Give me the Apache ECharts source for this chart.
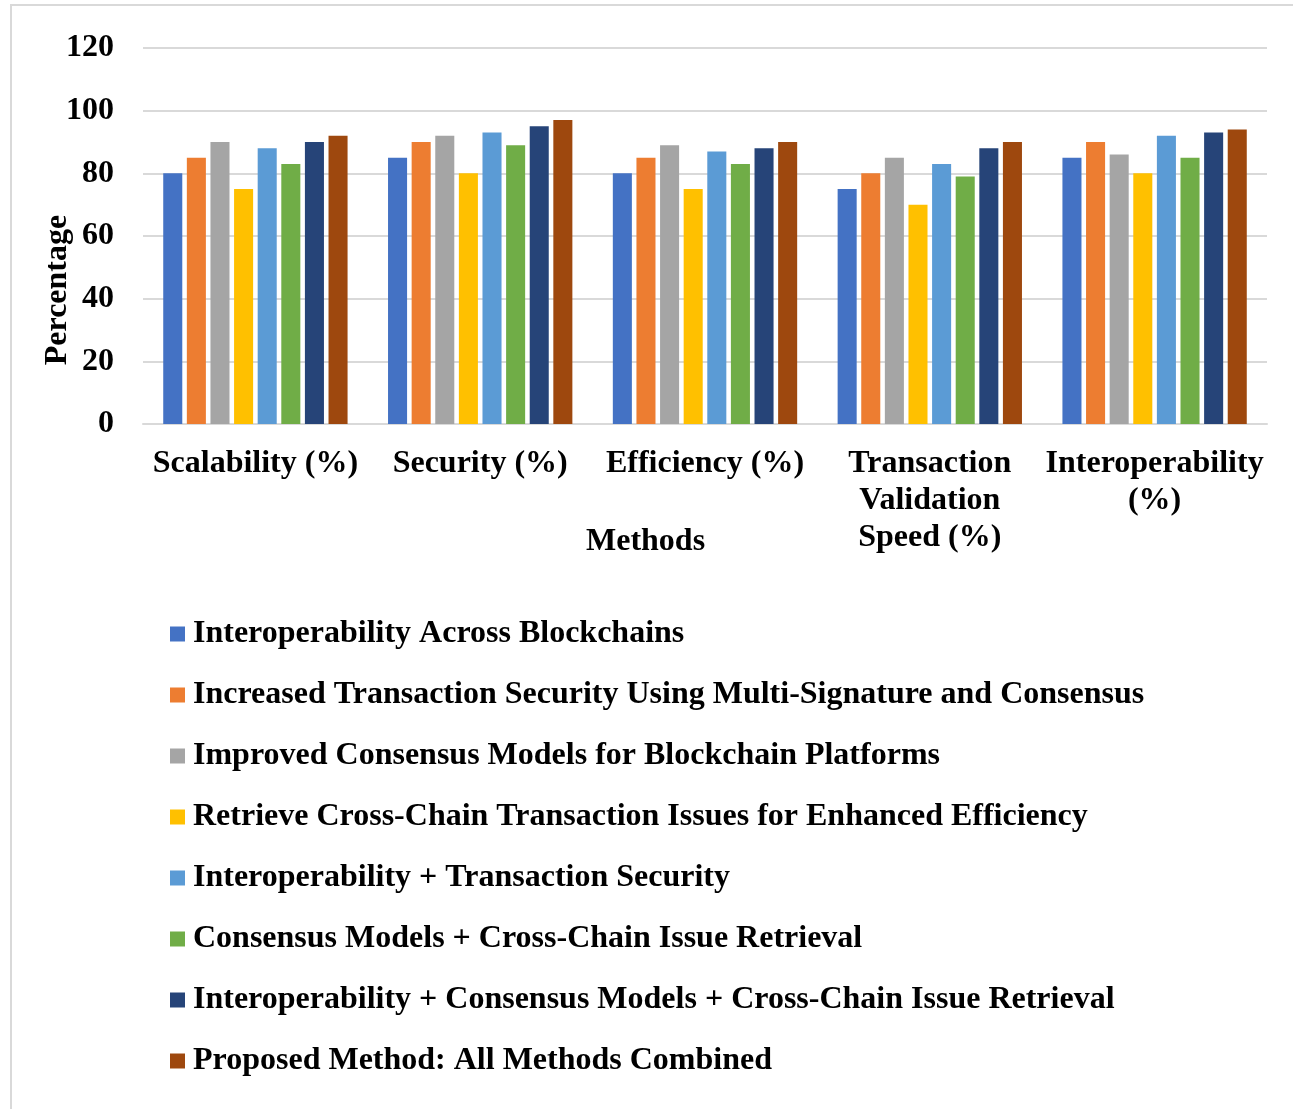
<!DOCTYPE html>
<html>
<head>
<meta charset="utf-8">
<script src="https://cdn.jsdelivr.net/npm/echarts@6/dist/echarts.min.js"></script>
<style>
  html, body { margin: 0; padding: 0; background: #ffffff; }
  #chart { width: 1293px; height: 1109px; }
</style>
</head>
<body>
<div id="chart"></div>
<script>
// Metric categories on the x axis
const categories = [
  'Scalability (%)',
  'Security (%)',
  'Efficiency (%)',
  'Transaction\nValidation\nSpeed (%)',
  'Interoperability\n(%)'
];

// Method names (one series each)
const methodNames = [
  'Interoperability Across Blockchains',
  'Increased Transaction Security Using Multi-Signature and Consensus',
  'Improved Consensus Models for Blockchain Platforms',
  'Retrieve Cross-Chain Transaction Issues for Enhanced Efficiency',
  'Interoperability + Transaction Security',
  'Consensus Models + Cross-Chain Issue Retrieval',
  'Interoperability + Consensus Models + Cross-Chain Issue Retrieval',
  'Proposed Method: All Methods Combined'
];

// Scores per method, in category order
const interopAcross   = [80, 85, 80, 75, 85];
const multiSigSec     = [85, 90, 85, 80, 90];
const consensusModels = [90, 92, 89, 85, 86];
const crossChainIssue = [75, 80, 75, 70, 80];
const interopPlusSec  = [88, 93, 87, 83, 92];
const consPlusCross   = [83, 89, 83, 79, 85];
const interopConsCross = [90, 95, 88, 88, 93];
const proposedAll     = [92, 97, 90, 90, 94];

// Y axis ticks
const yTicks = [0, 20, 40, 60, 80, 100, 120];

const seriesValues = [
  interopAcross, multiSigSec, consensusModels, crossChainIssue,
  interopPlusSec, consPlusCross, interopConsCross, proposedAll
];

const palette = ['#4472C4', '#ED7D31', '#A5A5A5', '#FFC000',
                 '#5B9BD5', '#70AD47', '#264478', '#9E480E'];

const FONT = '"Liberation Serif", "Times New Roman", serif';
const GRID_COLOR = '#d9d9d9';

const chart = echarts.init(document.getElementById('chart'), null, { renderer: 'canvas' });

chart.setOption({
  backgroundColor: '#ffffff',
  animation: false,
  color: palette,
  grid: { left: 143, right: 26, top: 48, bottom: 685, containLabel: false },
  xAxis: {
    type: 'category',
    data: categories,
    axisTick: { show: false },
    axisLine: { show: true, lineStyle: { color: GRID_COLOR, width: 2 } },
    axisLabel: {
      interval: 0,
      margin: 21,
      color: '#000',
      fontFamily: FONT,
      fontWeight: 'bold',
      fontSize: 32,
      lineHeight: 37,
      align: 'center'
    }
  },
  yAxis: {
    type: 'value',
    min: yTicks[0],
    max: yTicks[yTicks.length - 1],
    interval: yTicks[1] - yTicks[0],
    axisLine: { show: false },
    axisTick: { show: false },
    splitLine: { lineStyle: { color: GRID_COLOR, width: 2 } },
    axisLabel: {
      margin: 29,
      color: '#000',
      fontFamily: FONT,
      fontWeight: 'bold',
      fontSize: 32,
      padding: [4, 0, 0, 0]
    }
  },
  legend: {
    orient: 'vertical',
    left: 165,
    top: 613,
    itemWidth: 15,
    itemHeight: 15,
    itemGap: 29,
    icon: 'rect',
    data: methodNames,
    textStyle: {
      color: '#000',
      fontFamily: FONT,
      fontWeight: 'bold',
      fontSize: 32,
      lineHeight: 32,
      padding: [0, 0, 0, 3]
    }
  },
  graphic: [
    {
      type: 'rect',
      silent: true,
      shape: { x: 11, y: 5, width: 1400, height: 1200 },
      style: { fill: 'none', stroke: GRID_COLOR, lineWidth: 2 }
    },
    {
      type: 'text',
      left: 586,
      top: 526,
      style: {
        text: 'Methods',
        fill: '#000',
        font: 'bold 32px ' + FONT
      }
    },
    {
      type: 'text',
      x: 58,
      y: 290,
      rotation: Math.PI / 2,
      style: {
        text: 'Percentage',
        fill: '#000',
        font: 'bold 32px ' + FONT,
        align: 'center',
        verticalAlign: 'middle'
      }
    }
  ],
  series: methodNames.map((name, i) => ({
    name: name,
    type: 'bar',
    data: seriesValues[i],
    barGap: '24%',
    barCategoryGap: '18%',
    itemStyle: { color: palette[i] }
  }))
});
</script>
</body>
</html>
